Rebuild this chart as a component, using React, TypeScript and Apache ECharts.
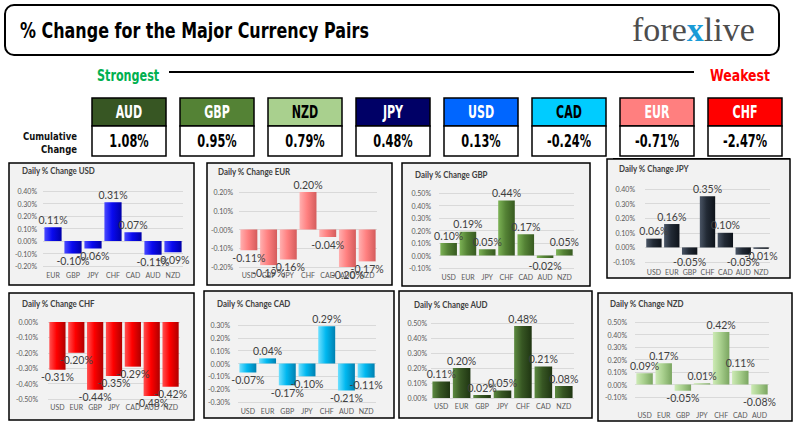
import React, { useEffect, useRef } from "react";
import * as echarts from "echarts";

// ---------- data ----------
const currencies = ["AUD", "GBP", "NZD", "JPY", "USD", "CAD", "EUR", "CHF"];
const cumulative = [1.08, 0.95, 0.79, 0.48, 0.13, -0.24, -0.71, -2.47];

const panelNames = ["USD", "EUR", "GBP", "JPY", "CHF", "CAD", "AUD", "NZD"];

const usdCats = ["EUR", "GBP", "JPY", "CHF", "CAD", "AUD", "NZD"];
const usdVals = [0.11, -0.1, -0.06, 0.31, 0.07, -0.11, -0.09];
const eurCats = ["USD", "GBP", "JPY", "CHF", "CAD", "AUD", "NZD"];
const eurVals = [-0.11, -0.19, -0.16, 0.2, -0.04, -0.2, -0.17];
const gbpCats = ["USD", "EUR", "JPY", "CHF", "CAD", "AUD", "NZD"];
const gbpVals = [0.1, 0.19, 0.05, 0.44, 0.17, -0.02, 0.05];
const jpyCats = ["USD", "EUR", "GBP", "CHF", "CAD", "AUD", "NZD"];
const jpyVals = [0.06, 0.16, -0.05, 0.35, 0.1, -0.05, -0.01];
const chfCats = ["USD", "EUR", "GBP", "JPY", "CAD", "AUD", "NZD"];
const chfVals = [-0.31, -0.2, -0.44, -0.35, -0.29, -0.48, -0.42];
const cadCats = ["USD", "EUR", "GBP", "JPY", "CHF", "AUD", "NZD"];
const cadVals = [-0.07, 0.04, -0.17, -0.1, 0.29, -0.21, -0.11];
const audCats = ["USD", "EUR", "GBP", "JPY", "CHF", "CAD", "NZD"];
const audVals = [0.11, 0.2, 0.02, 0.05, 0.48, 0.21, 0.08];
const nzdCats = ["USD", "EUR", "GBP", "JPY", "CHF", "CAD", "AUD"];
const nzdVals = [0.09, 0.17, -0.05, 0.01, 0.42, 0.11, -0.08];

const panelCats = [usdCats, eurCats, gbpCats, jpyCats, chfCats, cadCats, audCats, nzdCats];
const panelVals = [usdVals, eurVals, gbpVals, jpyVals, chfVals, cadVals, audVals, nzdVals];

// axis ranges / tick labels
const yMins = [-0.2, -0.2, -0.1, -0.1, -0.5, -0.3, 0, -0.1];
const yMaxs = [0.4, 0.2, 0.5, 0.4, 0, 0.3, 0.5, 0.5];
const yStep = 0.1;
const zeroLabels = ["0.00%", "-0.00%", "0.00%", "0.00%", "0.00%", "0.00%", "0.00%", "0.00%"];

// ---------- styles / layout ----------
const boxColors = ["#375623", "#548235", "#A9D08E", "#000066", "#0066FF", "#00CCFF", "#FF7F7F", "#FF0000"];
const boxText = ["#fff", "#fff", "#000", "#fff", "#fff", "#000", "#fff", "#fff"];

// [light, base, dark]
const barColors = [
  ["#4a4aff", "#0a0af0", "#0000a8"],
  ["#ffb0b0", "#ff8080", "#d45c5c"],
  ["#7cb255", "#548235", "#375a20"],
  ["#4a5565", "#222a35", "#0e131a"],
  ["#ff5050", "#ff0000", "#b00000"],
  ["#70e0ff", "#00b8f0", "#0080b0"],
  ["#5c8a40", "#375623", "#1f3512"],
  ["#cdeab5", "#a9d08e", "#7aa560"],
];

// border [x,y,w,h], grid [l,t,w,h], title [x,y], x label margin, y label margin
const layouts = [
  { b: [9, 163, 185, 122], g: [43, 191, 140, 75], t: [22, 171], xm: 5, ym: 6 },
  { b: [207, 163, 185, 122], g: [239, 192, 138, 75], t: [218, 172], xm: 4, ym: 6 },
  { b: [402, 163, 188, 123], g: [439, 193, 135, 75], t: [415, 175], xm: 5.5, ym: 8 },
  { b: [607, 159, 183, 119], g: [645, 189, 125, 73], t: [619, 169], xm: 6.5, ym: 10 },
  { b: [9, 293, 185, 127], g: [48, 322, 132, 77], t: [22, 304], xm: 4.5, ym: 10 },
  { b: [204, 291, 190, 127], g: [238, 325, 138, 77], t: [217, 304], xm: 5.5, ym: 8 },
  { b: [399, 291, 193, 127], g: [431, 323, 143, 75], t: [414, 305], xm: 4.5, ym: 4 },
  { b: [598, 293, 194, 128], g: [635, 322, 134, 75], t: [610, 304], xm: 14.5, ym: 8 },
];

const IMPACT = '"DejaVu Sans", sans-serif';
const CAL = 'Lato, "Open Sans", sans-serif';

// condensed text: a group carrying the horizontal squeeze
function squeezed(x: number, y: number, sx: number, style: any) {
  return {
    type: "group",
    x,
    y,
    scaleX: sx,
    scaleY: 1,
    children: [{ type: "text", x: 0, y: 0, style }],
  };
}

export default function App() {
  const ref = useRef<HTMLDivElement>(null);

  useEffect(() => {
    if (!ref.current) return;
    const chart = echarts.init(ref.current, undefined, { renderer: "svg" });

    const graphics: any[] = [];
    layouts.forEach((l, i) => {
      graphics.push({
        type: "rect",
        z: -10,
        shape: { x: l.b[0], y: l.b[1], width: l.b[2], height: l.b[3] },
        style: { fill: "#F2F2F2", stroke: "#000", lineWidth: 1.5 },
      });
      graphics.push(
        squeezed(l.t[0], l.t[1], 0.88, {
          text: "Daily % Change " + panelNames[i],
          fill: "#404040",
          font: `bold 9px ${CAL}`,
          verticalAlign: "middle",
        })
      );
    });

    // header
    graphics.push({
      type: "rect",
      shape: { x: 5, y: 5, width: 774, height: 50, r: 9 },
      style: { fill: "none", stroke: "#000", lineWidth: 2 },
    });
    graphics.push(
      squeezed(20, 31, 0.76, {
        text: "% Change for the Major Currency Pairs",
        fill: "#000",
        font: `bold 21px ${IMPACT}`,
        verticalAlign: "middle",
      })
    );
    graphics.push({
      type: "text",
      x: 632,
      y: 29,
      style: {
        text: "{a|fore}{b|x}{a|live}",
        verticalAlign: "middle",
        rich: {
          a: { fontFamily: '"Liberation Serif", serif', fontSize: 34, fill: "#4D4D4D", color: "#4D4D4D" },
          b: { fontFamily: '"Liberation Serif", serif', fontSize: 34, fill: "#1A9BD7", color: "#1A9BD7", fontWeight: "bold" },
        },
      },
    });
    graphics.push(
      squeezed(97, 75, 0.7, { text: "Strongest", fill: "#00B050", font: `bold 16px ${IMPACT}`, verticalAlign: "middle" })
    );
    graphics.push({
      type: "line",
      shape: { x1: 169, y1: 72, x2: 694, y2: 72 },
      style: { stroke: "#000", lineWidth: 2 },
    });
    graphics.push(
      squeezed(710, 75, 0.78, { text: "Weakest", fill: "#FF0000", font: `bold 16px ${IMPACT}`, verticalAlign: "middle" })
    );
    graphics.push(
      squeezed(77, 136, 0.85, { text: "Cumulative", fill: "#111", font: `bold 10px ${IMPACT}`, align: "right", verticalAlign: "middle" })
    );
    graphics.push(
      squeezed(77, 149, 0.85, { text: "Change", fill: "#111", font: `bold 10px ${IMPACT}`, align: "right", verticalAlign: "middle" })
    );

    currencies.forEach((c, i) => {
      const x = 92 + i * 88;
      graphics.push({
        type: "rect",
        shape: { x, y: 98, width: 74, height: 28 },
        style: { fill: boxColors[i], stroke: "#000", lineWidth: 1.5 },
      });
      graphics.push({
        type: "rect",
        shape: { x, y: 126, width: 74, height: 30 },
        style: { fill: "#fff", stroke: "#000", lineWidth: 1.5 },
      });
      graphics.push(
        squeezed(x + 37, 112, 0.65, { text: c, fill: boxText[i], font: `bold 17px ${IMPACT}`, align: "center", verticalAlign: "middle" })
      );
      graphics.push(
        squeezed(x + 37, 141, 0.63, {
          text: cumulative[i].toFixed(2) + "%",
          fill: "#000",
          font: `bold 18px ${IMPACT}`,
          align: "center",
          verticalAlign: "middle",
        })
      );
    });
    graphics.push({
      type: "line",
      shape: { x1: 613, y1: 158.5, x2: 790, y2: 158.5 },
      style: { stroke: "#000", lineWidth: 1 },
    });

    const grids = layouts.map((l) => ({
      left: l.g[0],
      top: l.g[1],
      width: l.g[2],
      height: l.g[3],
      containLabel: false,
    }));

    const xAxes = layouts.map((l, i) => ({
      type: "category",
      gridIndex: i,
      data: panelCats[i],
      position: "bottom",
      axisLine: { show: false, onZero: false },
      axisTick: { show: false },
      axisLabel: { fontSize: 7, color: "#595959", fontFamily: CAL, margin: l.xm, interval: 0 },
    }));

    const yAxes = layouts.map((l, i) => ({
      type: "value",
      gridIndex: i,
      min: yMins[i],
      max: yMaxs[i],
      interval: yStep,
      axisLine: { show: false },
      axisTick: { show: false },
      splitLine: { lineStyle: { color: "#D9D9D9", width: 1 } },
      axisLabel: {
        fontSize: 7,
        color: "#595959",
        fontFamily: CAL,
        margin: l.ym,
        formatter: (v: number) => (Math.abs(v) < 1e-9 ? zeroLabels[i] : v.toFixed(2) + "%"),
      },
    }));

    const series = panelVals.map((vals, i) => ({
      type: "bar",
      xAxisIndex: i,
      yAxisIndex: i,
      barCategoryGap: "14%",
      data: vals,
      itemStyle: {
        color: new echarts.graphic.LinearGradient(0, 0, 1, 0, [
          { offset: 0, color: barColors[i][0] },
          { offset: 0.45, color: barColors[i][1] },
          { offset: 1, color: barColors[i][2] },
        ]),
      },
      label: {
        show: true,
        position: "outside",
        distance: 2,
        fontSize: 10.5,
        color: "#404040",
        fontFamily: CAL,
        formatter: (p: any) => Number(p.value).toFixed(2) + "%",
      },
    }));

    chart.setOption({
      animation: false,
      backgroundColor: "#fff",
      grid: grids,
      xAxis: xAxes,
      yAxis: yAxes,
      series,
      graphic: { elements: graphics },
    });

    return () => chart.dispose();
  }, []);

  return (
    <div
      ref={ref}
      style={{ position: "fixed", left: 0, top: 0, width: 795, height: 428, background: "#fff" }}
    />
  );
}
